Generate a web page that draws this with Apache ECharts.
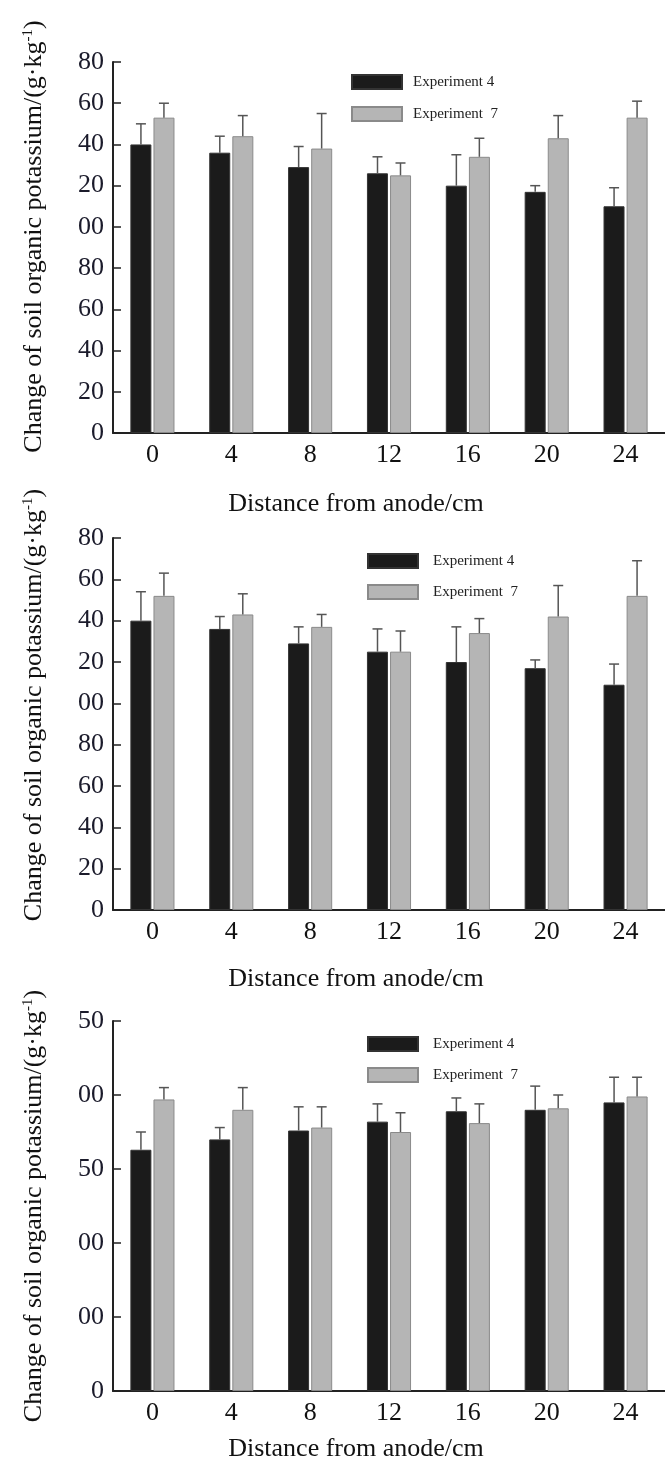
<!DOCTYPE html>
<html>
<head>
<meta charset="utf-8">
<script src="https://cdn.jsdelivr.net/npm/echarts@6/dist/echarts.min.js"></script>
<style>
  html, body { margin: 0; padding: 0; background: #fff; }
  #main { width: 665px; height: 1465px; }
</style>
</head>
<body>
<div id="main"></div>
<script>
// distance from anode (cm)
var distances = ['0', '4', '8', '12', '16', '20', '24'];

// panel 1
var exp4a = [140, 136, 129, 126, 120, 117, 110];
var exp4aErr = [10, 8, 10, 8, 15, 3, 9];
var exp7a = [153, 144, 138, 125, 134, 143, 153];
var exp7aErr = [7, 10, 17, 6, 9, 11, 8];

// panel 2
var exp4b = [140, 136, 129, 125, 120, 117, 109];
var exp4bErr = [14, 6, 8, 11, 17, 4, 10];
var exp7b = [152, 143, 137, 125, 134, 142, 152];
var exp7bErr = [11, 10, 6, 10, 7, 15, 17];

// panel 3
var exp4c = [163, 170, 176, 182, 189, 190, 195];
var exp4cErr = [12, 8, 16, 12, 9, 16, 17];
var exp7c = [197, 190, 178, 175, 181, 191, 199];
var exp7cErr = [8, 15, 14, 13, 13, 9, 13];

// tick labels as printed (left digits are cut off in the figure)
var yLabelsAB = ['0', '20', '40', '60', '80', '00', '20', '40', '60', '80'];
var yLabelsC = ['0', '00', '00', '50', '00', '50'];

var FONT = '"Liberation Serif", "DejaVu Serif", serif';
var yName = 'Change of soil organic potassium/(g·kg{sup|-1})';
var xName = 'Distance from anode/cm';

var BAR_W = 21;
var OFF = (BAR_W + 2) / 2;

var grids = [
  {left: 113, top: 62, width: 560, height: 371},
  {left: 113, top: 538, width: 560, height: 372},
  {left: 113, top: 1021, width: 560, height: 370}
];

function xAxisFor(i, gap) {
  return {
    type: 'category', gridIndex: i, data: distances,
    name: xName, nameLocation: 'middle', nameGap: gap,
    nameTextStyle: {fontFamily: FONT, fontSize: 26, color: '#111', padding: [0, 66, 0, 0]},
    axisLine: {lineStyle: {color: '#222', width: 2}},
    axisTick: {show: false},
    axisLabel: {fontFamily: FONT, fontSize: 26, color: '#111', margin: 9}
  };
}

function yAxisFor(i, max, step, labels, shift) {
  return {
    type: 'value', gridIndex: i, min: 0, max: max, interval: step,
    name: yName, nameLocation: 'middle', nameGap: 66,
    nameTextStyle: {
      fontFamily: FONT, fontSize: 26, color: '#111', padding: [0, 0, 0, shift],
      rich: {sup: {fontFamily: FONT, fontSize: 15, color: '#111', verticalAlign: 'top', padding: [0, 0, 10, 0]}}
    },
    splitLine: {show: false},
    axisLine: {show: true, lineStyle: {color: '#222', width: 2}},
    axisTick: {show: true, inside: true, length: 8, lineStyle: {color: '#222', width: 1.5}},
    axisLabel: {
      fontFamily: FONT, fontSize: 26, color: '#1b1b2b', margin: 9,
      formatter: function (v) { return labels[Math.round(v / step)]; }
    }
  };
}

function barSeries(name, i, values, color, border) {
  return {
    name: name, type: 'bar', xAxisIndex: i, yAxisIndex: i,
    data: values, barWidth: BAR_W, barGap: '10%',
    itemStyle: {color: color, borderColor: border, borderWidth: 1}
  };
}

function errSeries(i, values, errs, offset) {
  var d = values.map(function (v, k) { return [k, v, v + errs[k]]; });
  return {
    type: 'custom', xAxisIndex: i, yAxisIndex: i, data: d, z: 5, silent: true,
    renderItem: function (params, api) {
      var p0 = api.coord([api.value(0), api.value(1)]);
      var p1 = api.coord([api.value(0), api.value(2)]);
      var cx = p0[0] + offset;
      var st = {stroke: '#555', lineWidth: 1.5};
      return {
        type: 'group',
        children: [
          {type: 'line', shape: {x1: cx, y1: p0[1], x2: cx, y2: p1[1]}, style: st},
          {type: 'line', shape: {x1: cx - 5, y1: p1[1], x2: cx + 5, y2: p1[1]}, style: st}
        ]
      };
    }
  };
}

function legendFor(left, top, gap, textPad) {
  return {
    left: left, top: top, orient: 'vertical', icon: 'rect', padding: 0,
    itemWidth: 50, itemHeight: 14, itemGap: gap,
    data: ['Experiment 4', 'Experiment  7'],
    textStyle: {fontFamily: FONT, fontSize: 15, lineHeight: 16, color: '#222', padding: [0, 0, 0, textPad]}
  };
}

var chart = echarts.init(document.getElementById('main'));
var N4 = 'Experiment 4', N7 = 'Experiment  7';
var BLACK = '#1b1b1b', GRAY = '#b5b5b5';

chart.setOption({
  animation: false,
  backgroundColor: '#fff',
  grid: grids,
  legend: [legendFor(351, 74, 16, 6), legendFor(367, 553, 15, 10), legendFor(367, 1036, 15, 10)],
  xAxis: [xAxisFor(0, 58), xAxisFor(1, 56), xAxisFor(2, 45)],
  yAxis: [
    yAxisFor(0, 180, 20, yLabelsAB, 22),
    yAxisFor(1, 180, 20, yLabelsAB, 38),
    yAxisFor(2, 250, 50, yLabelsC, 0)
  ],
  series: [
    barSeries(N4, 0, exp4a, BLACK, '#333'),
    barSeries(N7, 0, exp7a, GRAY, '#8a8a8a'),
    errSeries(0, exp4a, exp4aErr, -OFF),
    errSeries(0, exp7a, exp7aErr, OFF),
    barSeries(N4, 1, exp4b, BLACK, '#333'),
    barSeries(N7, 1, exp7b, GRAY, '#8a8a8a'),
    errSeries(1, exp4b, exp4bErr, -OFF),
    errSeries(1, exp7b, exp7bErr, OFF),
    barSeries(N4, 2, exp4c, BLACK, '#333'),
    barSeries(N7, 2, exp7c, GRAY, '#8a8a8a'),
    errSeries(2, exp4c, exp4cErr, -OFF),
    errSeries(2, exp7c, exp7cErr, OFF)
  ]
});
</script>
</body>
</html>
